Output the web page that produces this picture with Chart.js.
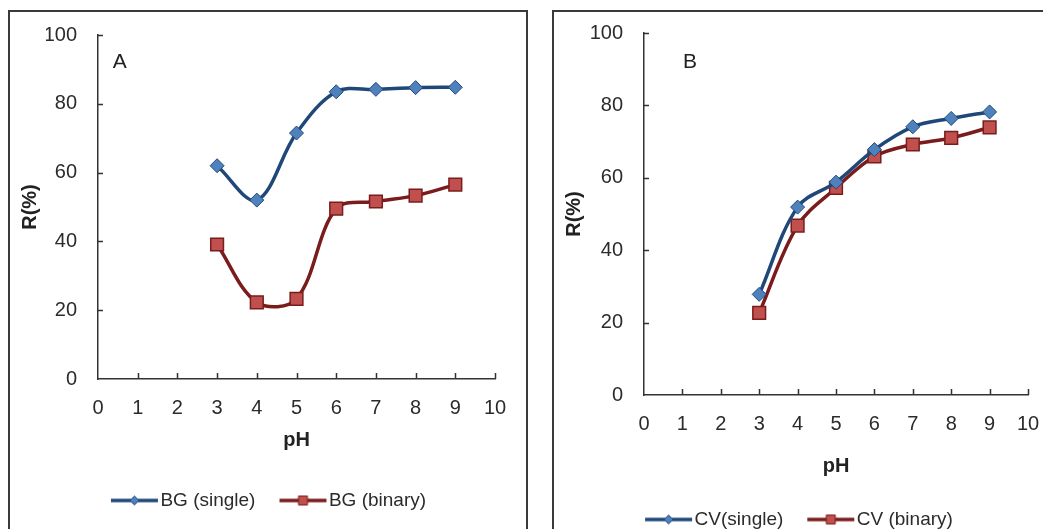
<!DOCTYPE html>
<html>
<head>
<meta charset="utf-8">
<script src="https://cdn.jsdelivr.net/npm/chart.js@4/dist/chart.umd.min.js"></script>
<style>
  body { margin: 0; width: 1043px; height: 529px; overflow: hidden; background: #fff; position: relative; }
  .frame { position: absolute; border: 2px solid #3a3a3a; box-sizing: border-box; }
  .box { position: absolute; }
</style>
</head>
<body>
<div class="frame" style="left:8px;top:10px;width:520px;height:560px"></div>
<div class="frame" style="left:552px;top:10px;width:520px;height:560px"></div>
<div class="box" style="left:10px;top:12px;width:514px;height:508px"><canvas id="chartA"></canvas></div>
<div class="box" style="left:554px;top:12px;width:489px;height:527px"><canvas id="chartB"></canvas></div>
<script>
// pH values (x) shared by both panels
const pH = [3, 4, 5, 6, 7, 8, 9];

// Panel A - brilliant green
const bgSingle = [62, 52, 71.5, 83.5, 84.2, 84.7, 84.8];
const bgBinary = [39.1, 22.3, 23.3, 49.5, 51.6, 53.3, 56.5];

// Panel B - crystal violet
const cvSingle = [27.8, 51.9, 58.8, 67.8, 74.1, 76.4, 78.2];
const cvBinary = [22.7, 46.8, 57.2, 65.9, 69.2, 71.0, 73.9];

const xTicks = [0, 1, 2, 3, 4, 5, 6, 7, 8, 9, 10];
const yTicks = [0, 20, 40, 60, 80, 100];

const FONT = "'Liberation Sans', Arial, sans-serif";
const BLUE_LINE = "#1f4879";
const BLUE_FILL = "#4f81bd";
const RED_LINE = "#7a1c1c";
const RED_FILL = "#c0504d";

// legend icon: line with marker, drawn in the right part of a wider image
// so it sits close to the text (image is centred on a 36px legend box)
function makeIcon(lineColor, fill, shape) {
  const c = document.createElement("canvas");
  c.width = 60;
  c.height = 14;
  const g = c.getContext("2d");
  g.strokeStyle = lineColor;
  g.lineWidth = 3.5;
  g.beginPath();
  g.moveTo(8, 7);
  g.lineTo(55, 7);
  g.stroke();
  g.fillStyle = fill;
  g.strokeStyle = lineColor;
  g.lineWidth = 1;
  g.beginPath();
  if (shape === "diamond") {
    g.moveTo(31.5, 2.5); g.lineTo(36, 7); g.lineTo(31.5, 11.5); g.lineTo(27, 7);
  } else {
    g.rect(27, 2.5, 9, 9);
  }
  g.closePath();
  g.fill();
  g.stroke();
  return c;
}

// inside tick marks + panel letter
const axisDecor = {
  id: "axisDecor",
  beforeDatasetsDraw(chart, args, opts) {
    const { ctx, chartArea, scales } = chart;
    ctx.save();
    ctx.strokeStyle = "#333";
    ctx.lineWidth = 1.5;
    ctx.beginPath();
    yTicks.forEach(function (v) {
      if (v === 0) return;
      const y = Math.round(scales.y.getPixelForValue(v)) + 0.5;
      ctx.moveTo(chartArea.left, y);
      ctx.lineTo(chartArea.left + 5, y);
    });
    xTicks.forEach(function (v) {
      if (v === 0) return;
      const x = Math.round(scales.x.getPixelForValue(v)) + 0.5;
      ctx.moveTo(x, chartArea.bottom);
      ctx.lineTo(x, chartArea.bottom - 6);
    });
    ctx.stroke();
    ctx.fillStyle = "#222";
    ctx.font = "21px " + FONT;
    ctx.textAlign = "center";
    ctx.textBaseline = "middle";
    ctx.fillText(opts.letter, scales.x.getPixelForValue(opts.lx), scales.y.getPixelForValue(opts.ly));
    ctx.restore();
  },
};

function makeChart(id, cfg) {
  const icons = [
    makeIcon(BLUE_LINE, BLUE_FILL, "diamond"),
    makeIcon(RED_LINE, RED_FILL, "square"),
  ];
  return new Chart(document.getElementById(id), {
    type: "line",
    data: {
      datasets: [
        {
          label: cfg.labels[0],
          data: pH.map((x, i) => ({ x: x, y: cfg.single[i] })),
          borderColor: BLUE_LINE,
          borderWidth: 3.5,
          tension: 0.35,
          pointStyle: "rectRot",
          pointRadius: 7,
          pointBackgroundColor: BLUE_FILL,
          pointBorderColor: BLUE_LINE,
          pointBorderWidth: 1,
        },
        {
          label: cfg.labels[1],
          data: pH.map((x, i) => ({ x: x, y: cfg.binary[i] })),
          borderColor: RED_LINE,
          borderWidth: 3.5,
          tension: 0.35,
          pointStyle: "rect",
          pointRadius: 9,
          pointBackgroundColor: RED_FILL,
          pointBorderColor: RED_LINE,
          pointBorderWidth: 1.5,
        },
      ],
    },
    options: {
      responsive: true,
      maintainAspectRatio: false,
      animation: false,
      layout: { padding: cfg.padding },
      scales: {
        x: {
          type: "linear",
          min: 0,
          max: 10,
          // tick marks are drawn inside by the plugin; tickLength only spaces the labels
          grid: { display: false, tickLength: 17 },
          border: { display: true, color: "#333", width: 1.5 },
          afterBuildTicks: (s) => { s.ticks = xTicks.map((v) => ({ value: v })); },
          ticks: { color: "#2b2b2b", padding: 0, font: { family: FONT, size: 20 } },
          title: {
            display: true,
            text: "pH",
            color: "#222",
            padding: cfg.xTitlePad,
            font: { family: FONT, size: 20, weight: "bold" },
          },
        },
        y: {
          min: 0,
          max: 100,
          grid: { display: false, tickLength: 16 },
          border: { display: true, color: "#333", width: 1.5 },
          afterBuildTicks: (s) => { s.ticks = yTicks.map((v) => ({ value: v })); },
          afterFit: (s) => { s.width = cfg.yWidth; },
          ticks: { color: "#2b2b2b", padding: 5, font: { family: FONT, size: 20 } },
          title: {
            display: true,
            text: "R(%)",
            color: "#222",
            padding: { top: cfg.yTitlePad, bottom: 0 },
            font: { family: FONT, size: 20, weight: "bold" },
          },
        },
      },
      plugins: {
        legend: {
          position: "bottom",
          labels: {
            usePointStyle: true,
            pointStyleWidth: 36,
            padding: 28,
            color: "#2b2b2b",
            font: { family: FONT, size: 19 },
            generateLabels: function (chart) {
              const items = Chart.defaults.plugins.legend.labels.generateLabels(chart);
              items.forEach(function (it, i) { it.pointStyle = icons[i]; });
              return items;
            },
          },
        },
        tooltip: { enabled: false },
        axisDecor: cfg.decor,
      },
    },
    plugins: [axisDecor],
  });
}

makeChart("chartA", {
  labels: ["BG (single)", "BG (binary)"],
  single: bgSingle,
  binary: bgBinary,
  yWidth: 52,
  yTitlePad: -28,
  padding: { top: 23, right: 29, left: 36, bottom: 0 },
  xTitlePad: { top: 8, bottom: 11 },
  decor: { letter: "A", lx: 0.55, ly: 92 },
});

makeChart("chartB", {
  labels: ["CV(single)", "CV (binary)"],
  single: cvSingle,
  binary: cvBinary,
  yWidth: 70,
  yTitlePad: -12,
  padding: { top: 21, right: 15, left: 20, bottom: 0 },
  xTitlePad: { top: 18, bottom: 4 },
  decor: { letter: "B", lx: 1.2, ly: 92 },
});
</script>
</body>
</html>
